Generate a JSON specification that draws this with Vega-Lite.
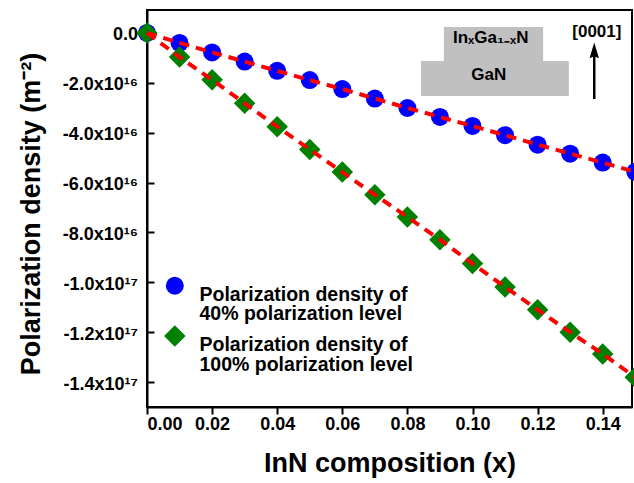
{
  "$schema": "https://vega.github.io/schema/vega-lite/v6.json",
  "width": 485,
  "height": 397,
  "autosize": "none",
  "padding": {"left": 147, "top": 10, "right": 2, "bottom": 76},
  "background": "white",
  "config": {
    "view": {"stroke": "#000000", "strokeWidth": 2},
    "axis": {
      "grid": false,
      "domainColor": "#000000",
      "domainWidth": 2,
      "tickColor": "#000000",
      "labelFont": "Liberation Sans",
      "labelFontWeight": "bold",
      "labelFontSize": 18,
      "labelColor": "#000000",
      "titleFont": "Liberation Sans",
      "titleFontWeight": "bold",
      "titleFontSize": 27,
      "titleColor": "#000000"
    }
  },
  "datasets": {
    "pts": [
      {"x": 0.00, "p": 0, "series": "40%"},
      {"x": 0.01, "p": -4.0e15, "series": "40%"},
      {"x": 0.02, "p": -7.8e15, "series": "40%"},
      {"x": 0.03, "p": -1.15e16, "series": "40%"},
      {"x": 0.04, "p": -1.52e16, "series": "40%"},
      {"x": 0.05, "p": -1.89e16, "series": "40%"},
      {"x": 0.06, "p": -2.25e16, "series": "40%"},
      {"x": 0.07, "p": -2.63e16, "series": "40%"},
      {"x": 0.08, "p": -3.01e16, "series": "40%"},
      {"x": 0.09, "p": -3.37e16, "series": "40%"},
      {"x": 0.10, "p": -3.73e16, "series": "40%"},
      {"x": 0.11, "p": -4.10e16, "series": "40%"},
      {"x": 0.12, "p": -4.48e16, "series": "40%"},
      {"x": 0.13, "p": -4.84e16, "series": "40%"},
      {"x": 0.14, "p": -5.20e16, "series": "40%"},
      {"x": 0.15, "p": -5.57e16, "series": "40%"},
      {"x": 0.00, "p": 0, "series": "100%"},
      {"x": 0.01, "p": -9.65e15, "series": "100%"},
      {"x": 0.02, "p": -1.88e16, "series": "100%"},
      {"x": 0.03, "p": -2.82e16, "series": "100%"},
      {"x": 0.04, "p": -3.76e16, "series": "100%"},
      {"x": 0.05, "p": -4.67e16, "series": "100%"},
      {"x": 0.06, "p": -5.58e16, "series": "100%"},
      {"x": 0.07, "p": -6.49e16, "series": "100%"},
      {"x": 0.08, "p": -7.38e16, "series": "100%"},
      {"x": 0.09, "p": -8.29e16, "series": "100%"},
      {"x": 0.10, "p": -9.25e16, "series": "100%"},
      {"x": 0.11, "p": -1.019e17, "series": "100%"},
      {"x": 0.12, "p": -1.110e17, "series": "100%"},
      {"x": 0.13, "p": -1.200e17, "series": "100%"},
      {"x": 0.14, "p": -1.287e17, "series": "100%"},
      {"x": 0.15, "p": -1.381e17, "series": "100%"}
    ],
    "rects": [
      {"x1": 0.0912, "x2": 0.1217, "y1": 2.37e15, "y2": -1.127e16},
      {"x1": 0.0842, "x2": 0.1296, "y1": -1.127e16, "y2": -2.53e16}
    ],
    "labels": [
      {"tx": 0.1056, "ty": -4.2e15, "label": "In\u2093Ga\u2081\u208b\u2093N"},
      {"tx": 0.1050, "ty": -1.89e16, "label": "GaN"},
      {"tx": 0.1382, "ty": -1.8e15, "label": "[0001]"}
    ],
    "arrow": [
      {"ax": 0.1374, "ay1": -2.65e16, "ay2": -8.0e15, "head": -7.0e15}
    ]
  },
  "layer": [
    {
      "data": {"name": "rects"},
      "mark": {"type": "rect", "fill": "#C0C0C0", "stroke": null},
      "encoding": {
        "x": {"field": "x1", "type": "quantitative"},
        "x2": {"field": "x2"},
        "y": {"field": "y1", "type": "quantitative"},
        "y2": {"field": "y2"}
      }
    },
    {
      "data": {"name": "labels"},
      "mark": {"type": "text", "font": "Liberation Sans", "fontWeight": "bold", "fontSize": 17, "align": "center", "baseline": "alphabetic", "color": "#000000"},
      "encoding": {
        "x": {"field": "tx", "type": "quantitative"},
        "y": {"field": "ty", "type": "quantitative"},
        "text": {"field": "label"}
      }
    },
    {
      "data": {"name": "arrow"},
      "mark": {"type": "rule", "color": "#000000", "strokeWidth": 2.5},
      "encoding": {
        "x": {"field": "ax", "type": "quantitative"},
        "y": {"field": "ay1", "type": "quantitative"},
        "y2": {"field": "ay2"}
      }
    },
    {
      "data": {"name": "arrow"},
      "mark": {"type": "point", "filled": true, "color": "#000000", "opacity": 1, "size": 110, "strokeWidth": 0, "shape": "M0,-1.5L0.9,1.5L0,1.1L-0.9,1.5Z"},
      "encoding": {
        "x": {"field": "ax", "type": "quantitative"},
        "y": {"field": "head", "type": "quantitative"}
      }
    },
    {
      "data": {"name": "pts"},
      "mark": {"type": "point", "filled": true, "opacity": 1, "strokeWidth": 0},
      "encoding": {
        "x": {
          "field": "x", "type": "quantitative",
          "scale": {"domain": [0, 0.149], "nice": false, "zero": false},
          "axis": {
            "orient": "bottom",
            "tickCount": 8,
            "tickSize": 7,
            "tickWidth": 2,
            "format": ".2f",
            "labelPadding": 1.4,
            "labelBaseline": "top",
            "title": "InN composition (x)",
            "titleX": 242.5,
            "titleY": 64.7,
            "titleAlign": "center",
            "titleBaseline": "alphabetic"
          }
        },
        "y": {
          "field": "p", "type": "quantitative",
          "scale": {"domain": [-1.5e17, 9.2e15], "nice": false, "zero": false},
          "axis": {
            "orient": "left",
            "values": [0, -2e16, -4e16, -6e16, -8e16, -1e17, -1.2e17, -1.4e17],
            "tickSize": -7,
            "tickWidth": 2,
            "labelExpr": "datum.value == 0 ? '0.0' : (abs(datum.value) < 9.9e16 ? '-' + format(abs(datum.value)/1e16, '.1f') + 'x10\u00b9\u2076' : '-' + format(abs(datum.value)/1e17, '.1f') + 'x10\u00b9\u2077')",
            "labelPadding": 16.5,
            "labelOffset": 2,
            "title": "Polarization density (m\u207b\u00b2)",
            "titleX": -108,
            "titleY": 203.5,
            "titleAngle": -90,
            "titleAlign": "center",
            "titleBaseline": "alphabetic"
          }
        },
        "color": {
          "field": "series", "type": "nominal",
          "scale": {"domain": ["40%", "100%"], "range": ["#0000FF", "#008000"]},
          "legend": {
            "title": null, "orient": "none", "legendX": 16.8, "legendY": 266, "padding": 0,
            "symbolSize": 441, "symbolStrokeWidth": 0, "symbolOpacity": 1,
            "labelFont": "Liberation Sans", "labelFontSize": 19.5, "labelFontWeight": "bold", "labelColor": "#000000",
            "labelLimit": 500, "labelOffset": 13.7, "labelBaseline": "top", "rowPadding": 1,
            "labelExpr": "datum.label == '40%' ? ['\u00a0Polarization density of', '40% polarization level'] : ['\u00a0Polarization density of', '100% polarization level']",
            "encode": {"labels": {"update": {"lineHeight": {"value": 19.5}}}}
          }
        },
        "shape": {
          "field": "series", "type": "nominal",
          "scale": {"domain": ["40%", "100%"], "range": ["circle", "diamond"]},
          "legend": {
            "title": null, "orient": "none", "legendX": 16.8, "legendY": 266, "padding": 0,
            "symbolSize": 441, "symbolStrokeWidth": 0, "symbolOpacity": 1,
            "labelFont": "Liberation Sans", "labelFontSize": 19.5, "labelFontWeight": "bold", "labelColor": "#000000",
            "labelLimit": 500, "labelOffset": 13.7, "labelBaseline": "top", "rowPadding": 1,
            "labelExpr": "datum.label == '40%' ? ['\u00a0Polarization density of', '40% polarization level'] : ['\u00a0Polarization density of', '100% polarization level']",
            "encode": {"labels": {"update": {"lineHeight": {"value": 19.5}}}}
          }
        },
        "size": {
          "field": "series", "type": "ordinal",
          "scale": {"type": "ordinal", "domain": ["40%", "100%"], "range": [324, 462]},
          "legend": null
        }
      }
    },
    {
      "data": {"name": "pts"},
      "mark": {"type": "line", "color": "#FF0000", "strokeWidth": 4, "strokeDash": [10, 7]},
      "encoding": {
        "x": {"field": "x", "type": "quantitative"},
        "y": {"field": "p", "type": "quantitative"},
        "detail": {"field": "series"}
      }
    }
  ]
}
